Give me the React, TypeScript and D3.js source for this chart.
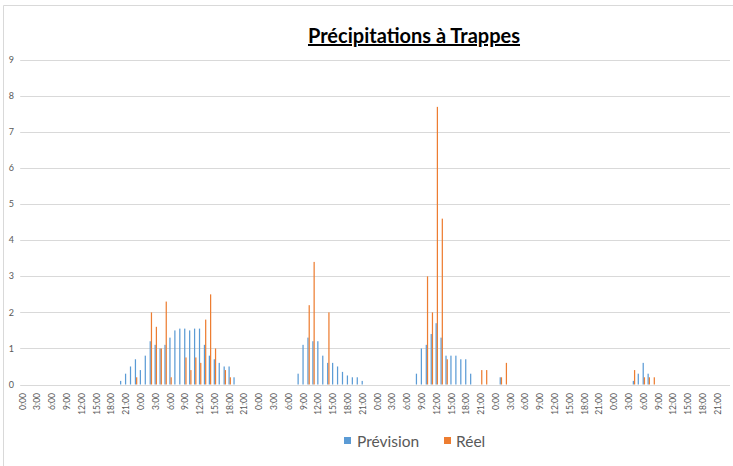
import React from "react";
import * as d3 from "d3";

const width = 733;
const height = 466;

const days = ["J1", "J2", "J3", "J4", "J5", "J6"];
const hours = d3.range(24).map((h) => `${h}:00`);

// one line per day, 24 hourly values
const prevision = [
  0, 0, 0, 0, 0, 0, 0, 0, 0, 0, 0, 0, 0, 0, 0, 0, 0, 0, 0, 0, 0.1, 0.3, 0.5, 0.7,
  0.4, 0.8, 1.2, 1.1, 1.0, 1.1, 1.3, 1.5, 1.55, 1.55, 1.5, 1.55, 1.55, 1.1, 0.8, 0.7, 0.6, 0.5, 0.5, 0.2, 0, 0, 0, 0,
  0, 0, 0, 0, 0, 0, 0, 0, 0.3, 1.1, 1.3, 1.2, 1.2, 0.8, 0.6, 0.6, 0.5, 0.35, 0.25, 0.2, 0.2, 0.1, 0, 0,
  0, 0, 0, 0, 0, 0, 0, 0, 0.3, 1.0, 1.1, 1.4, 1.7, 1.3, 0.8, 0.8, 0.8, 0.7, 0.7, 0.3, 0, 0, 0, 0,
  0, 0.2, 0, 0, 0, 0, 0, 0, 0, 0, 0, 0, 0, 0, 0, 0, 0, 0, 0, 0, 0, 0, 0, 0,
  0, 0, 0, 0, 0.1, 0.3, 0.6, 0.3, 0, 0, 0, 0, 0, 0, 0, 0, 0, 0, 0, 0, 0, 0, 0, 0,
];

const reel = [
  0, 0, 0, 0, 0, 0, 0, 0, 0, 0, 0, 0, 0, 0, 0, 0, 0, 0, 0, 0, 0, 0, 0, 0.2,
  0, 0, 2.0, 1.6, 1.0, 2.3, 0.2, 0, 0, 0.75, 0.4, 0.75, 0.6, 1.8, 2.5, 1.0, 0, 0.4, 0.2, 0, 0, 0, 0, 0,
  0, 0, 0, 0, 0, 0, 0, 0, 0, 0, 2.2, 3.4, 0, 0, 2.0, 0, 0, 0, 0, 0, 0, 0, 0, 0,
  0, 0, 0, 0, 0, 0, 0, 0, 0, 0, 3.0, 2.0, 7.7, 4.6, 0.7, 0, 0, 0, 0, 0, 0, 0.4, 0.4, 0,
  0, 0.2, 0.6, 0, 0, 0, 0, 0, 0, 0, 0, 0, 0, 0, 0, 0, 0, 0, 0, 0, 0, 0, 0, 0,
  0, 0, 0, 0, 0.4, 0, 0.2, 0.2, 0.2, 0, 0, 0, 0, 0, 0, 0, 0, 0, 0, 0, 0, 0, 0, 0,
];

const seriesNames = ["Prévision", "Réel"];
const seriesColors = ["#5B9BD5", "#ED7D31"];
const yTicks = [0, 1, 2, 3, 4, 5, 6, 7, 8, 9];

const App: React.FC = () => {
  const categories = days.flatMap((d) => hours.map((h) => `${d} ${h}`));
  const values = [prevision, reel];

  const x0 = d3.scaleBand<string>()
    .domain(categories)
    .range([20.2, 730.1])
    .paddingInner(0.5)
    .paddingOuter(0.25);
  const x1 = d3.scaleBand<string>()
    .domain(seriesNames)
    .range([0, x0.bandwidth()]);
  const y = d3.scaleLinear().domain([0, 9]).range([384.5, 60]);

  const font = "Lato, 'Open Sans', sans-serif";

  return (
    <svg width={width} height={height} style={{ display: "block" }}>
      <style>{`body{margin:0}`}</style>
      <rect x={0} y={0} width={width} height={height} fill="#fff" />
      <line x1={3.5} x2={3.5} y1={5.5} y2={height} stroke="#d9d9d9" />
      <line x1={3.5} x2={width} y1={5.5} y2={5.5} stroke="#d9d9d9" />

      <text
        x={414}
        y={43}
        textAnchor="middle"
        fontFamily={font}
        fontWeight="bold"
        fontSize={20}
        fill="#000"
        textDecoration="underline"
      >
        Précipitations à Trappes
      </text>

      {/* gridlines */}
      {yTicks.map((t) => (
        <line
          key={t}
          x1={20.2}
          x2={730}
          y1={Math.round(y(t)) + 0.5}
          y2={Math.round(y(t)) + 0.5}
          stroke="#d9d9d9"
          strokeWidth={1}
        />
      ))}
      {yTicks.map((t) => (
        <text
          key={t}
          x={14}
          y={y(t)}
          dy="0.35em"
          textAnchor="end"
          fontFamily={font}
          fontSize={9}
          fill="#595959"
        >
          {t}
        </text>
      ))}

      {/* bars */}
      {values.map((vals, s) => (
        <g key={seriesNames[s]} fill={seriesColors[s]}>
          {vals.map((v, i) =>
            v > 0 ? (
              <rect
                key={i}
                x={x0(categories[i])! + x1(seriesNames[s])!}
                y={y(v)}
                width={x1.bandwidth()}
                height={y(0) - y(v)}
              />
            ) : null
          )}
        </g>
      ))}

      {/* x tick labels, every 3 hours */}
      {categories.map((c, i) => {
        if (i % 3 !== 0) return null;
        const cx = x0(c)! + x0.bandwidth() / 2;
        return (
          <text
            key={c}
            x={cx}
            y={393}
            dy="0.35em"
            transform={`rotate(-90, ${cx}, 393)`}
            textAnchor="end"
            fontFamily={font}
            fontSize={8.5}
            fill="#595959"
          >
            {hours[i % 24]}
          </text>
        );
      })}

      {/* legend */}
      <rect x={344} y={437} width={7} height={7} fill={seriesColors[0]} />
      <text x={357} y={447} fontFamily={font} fontSize={15.5} fill="#595959">
        {seriesNames[0]}
      </text>
      <rect x={444} y={437} width={7} height={7} fill={seriesColors[1]} />
      <text x={456} y={447} fontFamily={font} fontSize={15.5} fill="#595959">
        {seriesNames[1]}
      </text>
    </svg>
  );
};

export default App;
